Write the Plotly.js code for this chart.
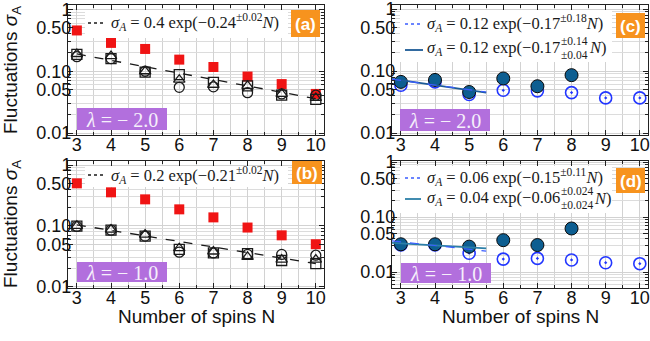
<!DOCTYPE html>
<html>
<head>
<meta charset="utf-8">
<script src="https://cdn.plot.ly/plotly-3.0.1.min.js"></script>
<style>html,body{margin:0;padding:0;background:#fff}#chart{width:650px;height:341px}</style>
</head>
<body>
<div id="chart"></div>
<script>
// ---------------- data ----------------
const N = [3, 4, 5, 6, 7, 8, 9, 10];
const N_filled = [3, 4, 5, 6, 7, 8];

// panel (a), lambda = -2.0
const aRed      = [0.456, 0.287, 0.229, 0.154, 0.117, 0.082, 0.062, 0.043];
const aSquare   = [0.187, 0.160, 0.097, 0.088, 0.066, 0.058, 0.041, 0.035];
const aTriangle = [0.190, 0.175, 0.100, 0.073, 0.060, 0.058, 0.043, 0.037];
const aCircle   = [0.172, 0.160, 0.100, 0.055, 0.056, 0.045, 0.043, 0.041];
const aFitN = [3, 10];
const aFit  = [0.190, 0.036];

// panel (b), lambda = -1.0
const bRed      = [0.500, 0.356, 0.273, 0.187, 0.138, 0.094, 0.070, 0.050];
const bSquare   = [0.099, 0.085, 0.068, 0.041, 0.036, 0.035, 0.027, 0.024];
const bTriangle = [0.100, 0.087, 0.072, 0.043, 0.038, 0.031, 0.028, 0.028];
const bCircle   = [0.098, 0.085, 0.068, 0.037, 0.036, 0.034, 0.034, 0.033];
const bFitN = [3, 10];
const bFit  = [0.104, 0.024];

// panel (c), lambda = -2.0
const cFilled = [0.067, 0.072, 0.046, 0.076, 0.057, 0.086];
const cOpen   = [0.059, 0.067, 0.042, 0.049, 0.048, 0.045, 0.037, 0.037];
const cFitN = [2.74, 5.5];
const cFitSolid = [0.075, 0.045];
const cFitDash  = [0.074, 0.046];

// panel (d), lambda = -1.0
const dFilled = [0.032, 0.032, 0.029, 0.038, 0.031, 0.062];
const dOpen   = [0.031, 0.031, 0.022, 0.0172, 0.0177, 0.0166, 0.0148, 0.0142];
const dFitN = [2.74, 5.5];
const dFitSolid = [0.034, 0.027];
const dFitDash  = [0.037, 0.024];

// ticks
const xTickVals = [3, 4, 5, 6, 7, 8, 9, 10];
const xTickText = ['3', '4', '5', '6', '7', '8', '9', '10'];
const xMinorVals = [3.5, 4.5, 5.5, 6.5, 7.5, 8.5, 9.5];
const yTickVals = [0.01, 0.05, 0.1, 0.5, 1];
const yTickText = ['0.01', '0.05', '0.10', '0.50', '1'];
const yMinorVals = [0.006, 0.007, 0.008, 0.009, 0.02, 0.03, 0.04, 0.06, 0.07, 0.08, 0.09,
                    0.2, 0.3, 0.4, 0.6, 0.7, 0.8, 0.9];

// labels
const panelLabels = ['(a)', '(b)', '(c)', '(d)'];
const lambdaLabels = ['−2.0', '−1.0', '−2.0', '−1.0'];
const yTitle = 'Fluctuations <i>σ</i><sub>A</sub>';
const xTitle = 'Number of spins N';

// ---------------- layout helpers ----------------
const W = 650, H = 341;
const px = v => v / W;
const py = v => 1 - v / H;
const SANS = 'Liberation Sans, Arial, sans-serif';
const SERIF = 'Liberation Serif, Times New Roman, serif';
const LSIZE = 16.5, SSIZE = 11.5;

const canvas = document.createElement('canvas');
const ctx = canvas.getContext('2d');
function tw(text, size, italic) {
  ctx.font = (italic ? 'italic ' : '') + size + 'px "Liberation Serif"';
  return ctx.measureText(text).width;
}

const GRID = '#d2d2d2';
function xAxis(dom, anchor) {
  return {
    domain: dom, anchor: anchor, range: [2.74, 10.24],
    tickmode: 'array', tickvals: xTickVals, ticktext: xTickText,
    ticks: 'inside', ticklen: 5, tickwidth: 1, tickcolor: '#222',
    showline: true, linecolor: '#222', linewidth: 1, mirror: 'allticks',
    showgrid: true, gridcolor: GRID, gridwidth: 1, zeroline: false,
    ticklabelstandoff: -7, ticklabeloverflow: 'allow',
    tickfont: {family: SANS, size: 18, color: '#111'},
    minor: {tickmode: 'array', tickvals: xMinorVals, ticks: 'inside', ticklen: 3,
            tickcolor: '#222', showgrid: true, gridcolor: GRID, gridwidth: 1}
  };
}
function yAxis(dom, anchor, range) {
  return {
    domain: dom, anchor: anchor, type: 'log', range: range,
    tickmode: 'array', tickvals: yTickVals, ticktext: yTickText,
    ticks: 'inside', ticklen: 5, tickwidth: 1, tickcolor: '#222',
    showline: true, linecolor: '#222', linewidth: 1, mirror: 'allticks',
    showgrid: true, gridcolor: GRID, gridwidth: 1, zeroline: false,
    ticklabelstandoff: -8, ticklabeloverflow: 'allow',
    tickfont: {family: SANS, size: 18, color: '#111'},
    minor: {tickmode: 'array', tickvals: yMinorVals, ticks: 'inside', ticklen: 3,
            tickcolor: '#222', showgrid: true, gridcolor: '#dcdcdc', gridwidth: 1}
  };
}

// panel frames in pixels
const P = {
  a: {x0: 68,  x1: 324, y0: 5,   y1: 135},
  c: {x0: 392, x1: 648, y0: 5,   y1: 135},
  b: {x0: 68,  x1: 324, y0: 161, y1: 288},
  d: {x0: 392, x1: 648, y0: 161, y1: 288}
};
const xd = p => [px(p.x0), px(p.x1)];
const yd = p => [py(p.y1), py(p.y0)];

// ---------------- traces ----------------
const RED = '#f01414', BLK = '#1a1a1a', DARK = '#0d5e91', BLUE = '#2236ff';
function redT(xa, ya, y) { return {x: N, y: y, xaxis: xa, yaxis: ya, mode: 'markers', type: 'scatter',
  marker: {symbol: 'square', size: 10, color: RED}, showlegend: false}; }
function openT(xa, ya, y, sym) { return {x: N, y: y, xaxis: xa, yaxis: ya, mode: 'markers', type: 'scatter',
  marker: {symbol: sym, size: 10, color: BLK, line: {width: 1.3, color: BLK}}, showlegend: false}; }
function lineT(xa, ya, x, y, color, dash, width) { return {x: x, y: y, xaxis: xa, yaxis: ya, mode: 'lines', type: 'scatter',
  line: {color: color, dash: dash, width: width}, showlegend: false, hoverinfo: 'skip'}; }
function dotT(xa, ya, y) { return {x: N, y: y, xaxis: xa, yaxis: ya, mode: 'markers', type: 'scatter',
  marker: {symbol: 'circle-open-dot', size: 12, color: BLUE, line: {width: 1.6, color: BLUE}}, showlegend: false}; }
function fillT(xa, ya, y) { return {x: N_filled, y: y, xaxis: xa, yaxis: ya, mode: 'markers', type: 'scatter',
  marker: {symbol: 'circle', size: 13, color: DARK, line: {width: 1, color: '#0a0a0a'}}, showlegend: false}; }

const data = [
  redT('x', 'y', aRed),
  openT('x', 'y', aCircle, 'circle-open'),
  openT('x', 'y', aTriangle, 'triangle-up-open'),
  openT('x', 'y', aSquare, 'square-open'),
  lineT('x', 'y', aFitN, aFit, BLK, 'dash', 1.3),

  dotT('x2', 'y2', cOpen),
  fillT('x2', 'y2', cFilled),
  lineT('x2', 'y2', cFitN, cFitSolid, '#1b5a96', 'solid', 1.8),
  lineT('x2', 'y2', cFitN, cFitDash, '#3a5cff', 'dash', 1.2),

  redT('x3', 'y3', bRed),
  openT('x3', 'y3', bCircle, 'circle-open'),
  openT('x3', 'y3', bTriangle, 'triangle-up-open'),
  openT('x3', 'y3', bSquare, 'square-open'),
  lineT('x3', 'y3', bFitN, bFit, BLK, 'dash', 1.3),

  dotT('x4', 'y4', dOpen),
  fillT('x4', 'y4', dFilled),
  lineT('x4', 'y4', dFitN, dFitSolid, '#2c7fa8', 'solid', 1.8),
  lineT('x4', 'y4', dFitN, dFitDash, '#3a5cff', 'dash', 1.2)
];

// ---------------- shapes & annotations ----------------
const shapes = [];
const annotations = [];
function rect(x0, y0, x1, y1, color) {
  shapes.push({type: 'rect', xref: 'paper', yref: 'paper', x0: px(x0), x1: px(x1), y0: py(y1), y1: py(y0),
    fillcolor: color, line: {width: 0}, layer: 'above'});
}
function seg(x0, x1, y, color, dash, width) {
  shapes.push({type: 'line', xref: 'paper', yref: 'paper', x0: px(x0), x1: px(x1), y0: py(y), y1: py(y),
    line: {color: color, dash: dash, width: width}, layer: 'above'});
}
function text(x, y, t, font, opts) {
  annotations.push(Object.assign({xref: 'paper', yref: 'paper', x: px(x), y: py(y), text: t, showarrow: false,
    xanchor: 'left', yanchor: 'middle', font: font, borderpad: 0, borderwidth: 0}, opts || {}));
}
const LF = {family: SERIF, size: LSIZE, color: '#1a1a1a'};
const SF = {family: SERIF, size: SSIZE, color: '#1a1a1a'};
const SIG = '<i>σ</i><sub><i>A</i></sub> = ';

// white legend boxes
rect(85, 10, 288, 38, '#ffffff');
rect(85, 166, 288, 187, '#ffffff');
rect(400, 10, 612, 62, '#ffffff');
rect(400, 166, 612, 213, '#ffffff');

// legend (a)
seg(88, 105, 23, BLK, 'dot', 1.6);
text(111, 22, SIG + '0.4 exp(−0.24<sup>±0.02</sup><i>N</i>)', LF);
// legend (b)
seg(88, 105, 175, BLK, 'dot', 1.6);
text(111, 175, SIG + '0.2 exp(−0.21<sup>±0.02</sup><i>N</i>)', LF);
// legend (c)
seg(405, 423, 24, '#3a5cff', 'dot', 1.6);
text(427, 23, SIG + '0.12 exp(−0.17<sup>±0.18</sup><i>N</i>)', LF);
seg(405, 423, 50, '#1b5a96', 'solid', 1.8);
function stacked(x, y, main, sup, sub) {
  const w1 = tw('σ', LSIZE, true) + tw('A', LSIZE * 0.7, true) + tw(' = ' + main, LSIZE, false);
  text(x, y, SIG + main, LF);
  const xs = x + w1 + 1;
  text(xs, y - 7, sup, SF);
  text(xs, y + 7, sub, SF);
  const ws = Math.max(tw(sup, SSIZE), tw(sub, SSIZE));
  text(xs + ws + 1, y, '<i>N</i>)', LF);
}
stacked(427, 48, '0.12 exp(−0.17', '±0.14', '±0.04');
// legend (d)
seg(405, 421, 178, '#3a5cff', 'dot', 1.6);
text(427, 177, SIG + '0.06 exp(−0.15<sup>±0.11</sup><i>N</i>)', LF);
seg(405, 421, 199, '#2c7fa8', 'solid', 1.8);
stacked(427, 198, '0.04 exp(−0.06', '±0.024', '±0.024');

// orange panel labels
const OR = '#f7931e';
const orangeBoxes = [[291, 10, 320, 37], [292, 161, 322, 184], [616, 13, 645, 38], [616, 168, 645, 193]];
orangeBoxes.forEach((b, i) => {
  rect(b[0], b[1], b[2], b[3], OR);
  text((b[0] + b[2]) / 2, (b[1] + b[3]) / 2 + 1, '<b>' + panelLabels[i] + '</b>',
       {family: SANS, size: 17, color: '#ffffff'}, {xanchor: 'center'});
});

// purple lambda labels
const PU = '#b26fdd';
const purpleBoxes = [[77, 108, 167, 130], [77, 262, 167, 282], [400, 109, 490, 131], [401, 263, 491, 283]];
purpleBoxes.forEach((b, i) => {
  rect(b[0], b[1], b[2], b[3], PU);
  text((b[0] + b[2]) / 2, (b[1] + b[3]) / 2 + 1, '<i>λ</i> = ' + lambdaLabels[i].replace('−', '− '),
       {family: SERIF, size: 20, color: '#f6f0fb'}, {xanchor: 'center'});
});

// axis titles
text(12, 70, yTitle, {family: SANS, size: 19, color: '#111'}, {xanchor: 'center', textangle: -90});
text(12, 224, yTitle, {family: SANS, size: 19, color: '#111'}, {xanchor: 'center', textangle: -90});
text(196, 316, xTitle, {family: SANS, size: 19, color: '#111'}, {xanchor: 'center'});
text(520, 316, xTitle, {family: SANS, size: 19, color: '#111'}, {xanchor: 'center'});

const layout = {
  width: W, height: H, margin: {l: 0, r: 0, t: 0, b: 0},
  paper_bgcolor: '#ffffff', plot_bgcolor: '#ffffff', showlegend: false,
  xaxis: xAxis(xd(P.a), 'y'),   yaxis: yAxis(yd(P.a), 'x', [-2.03, 0.07]),
  xaxis2: xAxis(xd(P.c), 'y2'), yaxis2: yAxis(yd(P.c), 'x2', [-2.03, 0.065]),
  xaxis3: xAxis(xd(P.b), 'y3'), yaxis3: yAxis(yd(P.b), 'x3', [-2.02, 0.066]),
  xaxis4: xAxis(xd(P.d), 'y4'), yaxis4: yAxis(yd(P.d), 'x4', [-2.29, 0.02]),
  shapes: shapes, annotations: annotations
};

Plotly.newPlot('chart', data, layout, {staticPlot: true, displayModeBar: false});
</script>
</body>
</html>
